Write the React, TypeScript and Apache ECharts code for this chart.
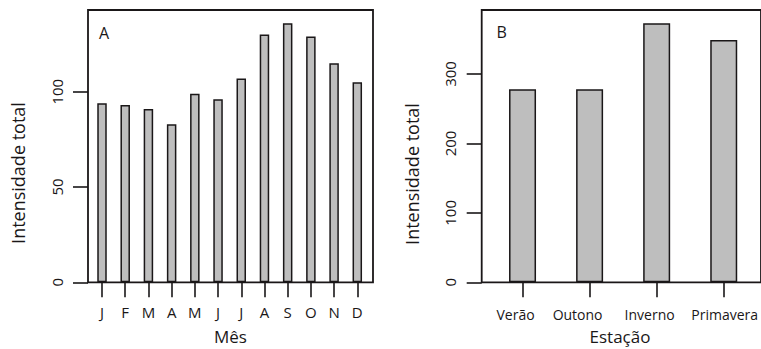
import React, { useEffect, useRef } from "react";
import * as echarts from "echarts";

const months = ["J", "F", "M", "A", "M", "J", "J", "A", "S", "O", "N", "D"];
const monthValues = [94, 93, 91, 83, 99, 96, 107, 130, 136, 129, 115, 105];
const monthTicks = [0, 50, 100];
const monthMax = 142.9;

const seasons = ["Verão", "Outono", "Inverno", "Primavera"];
const seasonValues = [278, 278, 373, 349];
const seasonTicks = [0, 100, 200, 300];
const seasonMax = 392.2;
// horizontal nudges of the season labels as printed in the reference
const seasonLabelPad = [
  [0, 14, 0, 0],
  [0, 24, 0, 0],
  [0, 14, 0, 0],
  [0, 0, 0, 2],
];

const INK = "#1a1718";
const FONT = "'Open Sans', 'DejaVu Sans', sans-serif";

export default function App() {
  const ref = useRef<HTMLDivElement>(null);
  useEffect(() => {
    document.body.style.margin = "0";
    const chart = echarts.init(ref.current!, null, { renderer: "svg" });
    const yAxisCommon = (ticks: number[], max: number, gridIndex: number, offset: number) => ({
      type: "value",
      gridIndex,
      min: 0,
      max,
      offset,
      axisLine: { show: false },
      splitLine: { show: false },
      axisTick: {
        show: true,
        length: 15,
        customValues: ticks,
        lineStyle: { color: INK, width: 1.6 },
      },
      axisLabel: {
        show: true,
        customValues: ticks,
        rotate: 90,
        margin: 24,
        fontFamily: FONT,
        fontSize: 15,
        color: INK,
      },
    });
    const tickStyle = {
      show: true,
      alignWithLabel: true,
      length: 15,
      lineStyle: { color: INK, width: 1.6 },
    };
    const rich: Record<string, any> = {};
    seasonLabelPad.forEach((p, i) => {
      rich["s" + i] = { padding: p, fontFamily: FONT, fontSize: 14, color: INK };
    });
    chart.setOption({
      animation: false,
      backgroundColor: "#ffffff",
      grid: [
        { left: 88, top: 10, width: 285, height: 272.3, show: true, borderColor: INK, borderWidth: 1.8, backgroundColor: "transparent" },
        { left: 90.4, top: 10, width: 278.5, height: 272.3, show: false },
        { left: 481.7, top: 10, width: 300, height: 272.3, show: true, borderColor: INK, borderWidth: 1.8, backgroundColor: "transparent" },
        { left: 489, top: 10, width: 269.2, height: 272.3, show: false },
      ],
      xAxis: [
        { type: "category", gridIndex: 0, show: false, data: ["_"] },
        {
          type: "category",
          gridIndex: 1,
          data: months,
          axisLine: { show: false },
          axisTick: tickStyle,
          axisLabel: { interval: 0, margin: 22, fontFamily: FONT, fontSize: 15, color: INK },
        },
        { type: "category", gridIndex: 2, show: false, data: ["_"] },
        {
          type: "category",
          gridIndex: 3,
          data: seasons,
          axisLine: { show: false },
          axisTick: tickStyle,
          axisLabel: {
            interval: 0,
            margin: 25,
            fontFamily: FONT,
            fontSize: 14,
            color: INK,
            formatter: (v: string, i: number) => `{s${i}|${v}}`,
            rich,
          },
        },
      ],
      yAxis: [
        { type: "value", gridIndex: 0, show: false, min: 0, max: 1 },
        yAxisCommon(monthTicks, monthMax, 1, 2.4),
        { type: "value", gridIndex: 2, show: false, min: 0, max: 1 },
        yAxisCommon(seasonTicks, seasonMax, 3, 7.3),
      ],
      series: [
        {
          type: "bar",
          xAxisIndex: 1,
          yAxisIndex: 1,
          data: monthValues,
          barWidth: 9.5,
          itemStyle: { color: "#bebebe", borderColor: INK, borderWidth: 1.5 },
          z: 1,
        },
        {
          type: "bar",
          xAxisIndex: 3,
          yAxisIndex: 3,
          data: seasonValues,
          barWidth: 27,
          itemStyle: { color: "#bebebe", borderColor: INK, borderWidth: 1.5 },
          z: 1,
        },
      ],
      graphic: [
        { type: "text", x: 99, y: 32.5, style: { text: "A", font: `16px ${FONT}`, fill: INK, verticalAlign: "middle", align: "left" } },
        { type: "text", x: 496.5, y: 32, style: { text: "B", font: `16px ${FONT}`, fill: INK, verticalAlign: "middle", align: "left" } },
        { type: "text", x: 230.5, y: 336.5, style: { text: "Mês", font: `17px ${FONT}`, fill: INK, verticalAlign: "middle", align: "center" } },
        { type: "text", x: 620, y: 336.5, style: { text: "Estação", font: `17px ${FONT}`, fill: INK, verticalAlign: "middle", align: "center" } },
        { type: "text", x: 18, y: 173, rotation: Math.PI / 2, style: { text: "Intensidade total", font: `18px ${FONT}`, fill: INK, verticalAlign: "middle", align: "center" } },
        { type: "text", x: 411.5, y: 174, rotation: Math.PI / 2, style: { text: "Intensidade total", font: `18px ${FONT}`, fill: INK, verticalAlign: "middle", align: "center" } },
      ],
    });
    return () => chart.dispose();
  }, []);
  return <div ref={ref} style={{ position: "fixed", left: 0, top: 0, width: 761, height: 349 }} />;
}
